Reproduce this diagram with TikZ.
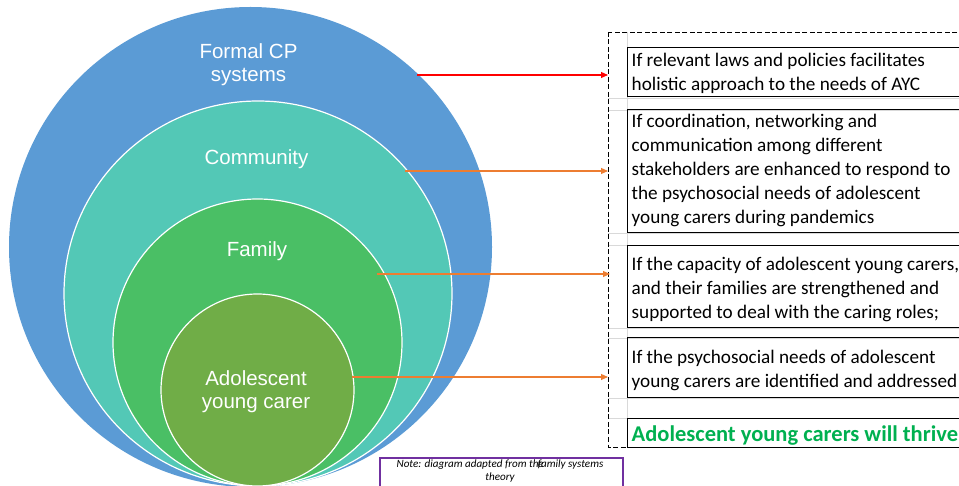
\documentclass[tikz,border=0pt]{standalone}
\usepackage{fontspec}
\setmainfont{Carlito}
\newfontfamily\arialfont{Liberation Sans}
\usetikzlibrary{shapes.geometric,arrows.meta}
\definecolor{cpblue}{HTML}{5B9BD5}
\definecolor{commteal}{HTML}{53C8B6}
\definecolor{famgreen}{HTML}{4ABF65}
\definecolor{aycgreen}{HTML}{70AD47}
\definecolor{arrorange}{HTML}{ED7D31}
\definecolor{thrivegreen}{HTML}{00B050}
\definecolor{gridgray}{HTML}{D9D9D9}
\definecolor{notepurple}{HTML}{7030A0}
\tikzset{
  ring/.style={ellipse, inner sep=0pt, draw=white, line width=1.2pt},
  ringlabel/.style={text=white, font=\arialfont\fontsize{20.5}{23}\selectfont, align=center, inner sep=0pt},
  outcome/.style={draw=black, line width=0.9pt, anchor=north west, inner sep=0pt, minimum width=345pt},
  outtext/.style={anchor=west, inner sep=0pt, align=left, font=\fontsize{19.2}{24}\selectfont},
  linkarrow/.style={line width=1.1pt, -{Triangle[length=7pt,width=6pt]}},
  cellline/.style={draw=gridgray, line width=0.8pt}
}
\begin{document}
\begin{tikzpicture}[x=1pt,y=-1pt]
\useasboundingbox (0,0) rectangle (959,486);
\clip (0,0) rectangle (959,486);

% nested system rings
\node[ring, draw=none, fill=cpblue, minimum width=483pt, minimum height=480pt] (cp) at (250.5,247) {};
\node[ring, fill=commteal, minimum width=388pt, minimum height=385pt] (comm) at (258,293.5) {};
\node[ring, fill=famgreen, minimum width=289pt, minimum height=287pt] (fam) at (257.5,342.5) {};
\node[ring, fill=aycgreen, minimum width=193pt, minimum height=192pt] (ayc) at (257.5,390) {};

\node[ringlabel] (cplabel) at (248.5,64.5) {Formal CP\\systems};
\node[ringlabel] (commlabel) at (256.5,159) {Community};
\node[ringlabel] (famlabel) at (257,251) {Family};
\node[ringlabel] (ayclabel) at (256,391.5) {Adolescent\\young carer};

% spreadsheet cell lines behind the outcome boxes
\draw[cellline] (627,32) -- (627,447);
\foreach \yy in {98,110,233,245,328,338,398,418}
  \draw[cellline] (608,\yy) -- (959,\yy);

% outcome boxes
\node[outcome, minimum height=49pt] (o1) at (627,47) {};
\node[outcome, minimum height=123pt] (o2) at (627,109) {};
\node[outcome, minimum height=82pt] (o3) at (627,245) {};
\node[outcome, minimum height=60pt] (o4) at (627,337) {};
\node[outcome, minimum height=29pt] (o5) at (627,418) {};

% outcome statements
\node[outtext] (t1) at ([xshift=4.5pt, yshift=-1.5pt]o1.west)
  {If relevant laws and policies facilitates\\holistic approach to the needs of AYC};
\node[outtext] (t2) at ([xshift=4.5pt]o2.west)
  {If coordination, networking and\\communication among different\\stakeholders are enhanced to respond to\\the psychosocial needs of adolescent\\young carers during pandemics};
\node[outtext] (t3) at ([xshift=4.5pt, yshift=-3pt]o3.west)
  {If the capacity of adolescent young carers,\\and their families are strengthened and\\supported to deal with the caring roles;};
\node[outtext] (t4) at ([xshift=4.5pt, yshift=-3.5pt]o4.west)
  {If the psychosocial needs of adolescent\\young carers are identified and addressed};
\node[outtext, font=\bfseries\fontsize{22.5}{24}\selectfont, text=thrivegreen] (t5) at ([xshift=4.5pt, yshift=-2.5pt]o5.west)
  {Adolescent young carers will thrive};

% dashed frame around the outcomes
\draw[line width=0.9pt, dash pattern=on 5pt off 2.5pt] (608,32) rectangle (975,447);

% connectors from each ring to the frame
\coordinate (s1) at (417,75);   \coordinate (e1) at (608,75);
\coordinate (s2) at (405,171);  \coordinate (e2) at (608,171);
\coordinate (s3) at (377,274);  \coordinate (e3) at (610,274);
\coordinate (s4) at (352,377);  \coordinate (e4) at (608,377);
\draw[linkarrow, red] (s1) -- (e1);
\draw[linkarrow, arrorange] (s2) -- (e2);
\draw[linkarrow, arrorange] (s3) -- (e3);
\draw[linkarrow, arrorange] (s4) -- (e4);

% source note
\node[draw=notepurple, line width=1.5pt, fill=white, minimum width=243pt, minimum height=40pt,
  anchor=north west, inner sep=0pt] (notebox) at (379,457) {};
\node[font=\itshape\fontsize{11.1}{13}\selectfont, align=center, inner sep=0pt] (note) at (500,471.5)
  {Note: diagram adapted from th\kern-0.05em e\kern-0.5em family systems\\theory};
\end{tikzpicture}
\end{document}
